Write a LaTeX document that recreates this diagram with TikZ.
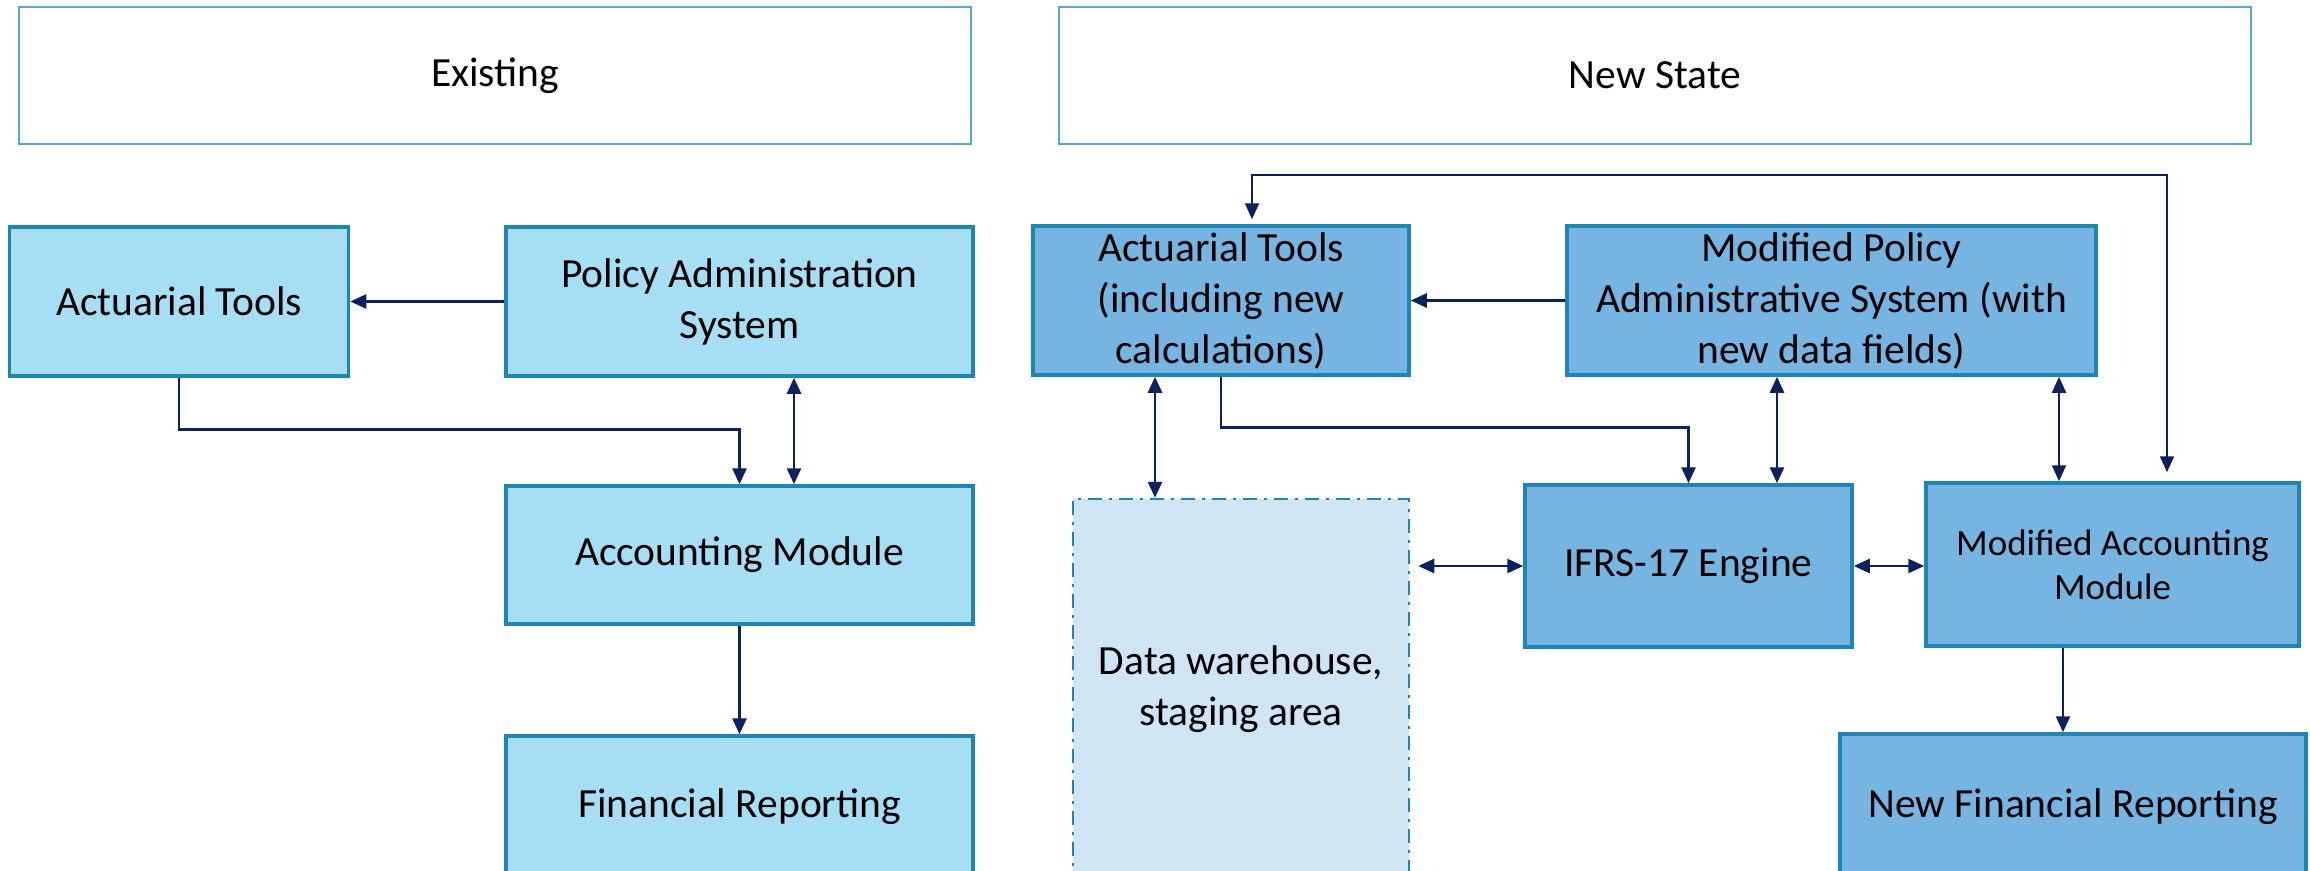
\documentclass[tikz,border=0pt]{standalone}
\usepackage{fontspec}
\setmainfont{Carlito}
\usetikzlibrary{arrows.meta,calc}
\definecolor{lfill}{HTML}{A6DEF4}
\definecolor{rfill}{HTML}{76B4E2}
\definecolor{dwfill}{HTML}{D0E5F4}
\definecolor{bord}{HTML}{1F85B2}
\definecolor{hbord}{HTML}{5AA8D2}
\definecolor{navy}{HTML}{0B2160}
\begin{document}
\begin{tikzpicture}[x=1pt,y=-1pt,
  every node/.style={inner sep=0pt, align=center, font=\fontsize{41.5}{51}\selectfont},
  hdr/.style={draw=hbord, line width=1.5pt, fill=white},
  lbox/.style={draw=bord, line width=3.5pt, fill=lfill},
  rbox/.style={draw=bord, line width=3.5pt, fill=rfill},
  dwbox/.style={draw=bord, line width=2.5pt, fill=dwfill, dash pattern=on 14pt off 7pt on 3pt off 7pt},
  arr/.style={draw=navy, line width=2.7pt, -{Triangle[length=16pt,width=14pt]}},
  arrb/.style={draw=navy, line width=2.7pt, {Triangle[length=16pt,width=14pt]}-{Triangle[length=16pt,width=14pt]}},
]
\useasboundingbox (0,0) rectangle (2310,870);
% headers
\node[hdr, minimum width=952pt, minimum height=137pt] (hL) at (495,75.5) {Existing};
\node[hdr, minimum width=1192pt, minimum height=137pt] (hR) at (1655,75.5) {New State};
% left side
\node[lbox, minimum width=339pt, minimum height=149pt] (AT1) at (179,301.5) {Actuarial Tools};
\node[lbox, minimum width=467pt, minimum height=149pt] (PAS) at (739.5,301.5) {Policy Administration\\System};
\node[lbox, minimum width=467pt, minimum height=138pt] (AM) at (739.5,555) {Accounting Module};
\node[lbox, minimum width=467pt, minimum height=142pt] (FR) at (739.5,807) {Financial Reporting};
% right side
\node[rbox, minimum width=376pt, minimum height=149pt] (AT2) at (1221,300.5) {Actuarial Tools\\(including new\\calculations)};
\node[rbox, minimum width=529pt, minimum height=149pt] (MP) at (1831.5,300.5) {Modified Policy\\Administrative System (with\\new data fields)};
\node[dwbox, minimum width=336pt, minimum height=380pt] (DW) at (1241,689) {Data warehouse,\\staging area};
\node[rbox, minimum width=327pt, minimum height=162pt] (IF) at (1688.5,566) {IFRS-17 Engine};
\node[rbox, minimum width=373pt, minimum height=163pt, font=\fontsize{37}{44}\selectfont] (MAM) at (2112.5,564.5) {Modified Accounting\\Module};
\node[rbox, minimum width=466pt, minimum height=146pt] (NFR) at (2073,807) {New Financial Reporting};
% left connectors
\draw[arr] (PAS.west) -- (AT1.east);
\draw[arr] (AT1.south) |- ($(AM.north)+(0,-55)$) -- (AM.north);
\draw[arrb] ([xshift=54.5pt]PAS.south) -- ([xshift=54.5pt]AM.north);
\draw[arr] (AM.south) -- (FR.north);
% right connectors
\draw[arr] (MP.west) -- (AT2.east);
\coordinate (TL) at ($(AT2.north)+(31,-49)$);
\draw[arrb, line width=2pt, shorten <=5pt, shorten >=9pt] ([xshift=31pt]AT2.north) -- (TL) -| ([xshift=54.5pt]MAM.north);
\draw[arr] (AT2.south) |- ($(IF.north)+(0,-56)$) -- (IF.north);
\draw[arrb] ([xshift=-66pt]AT2.south) -- ([xshift=-66pt]AT2.south |- DW.north);
\draw[arrb] ([xshift=-54.5pt]MP.south) -- ([xshift=-54.5pt]MP.south |- IF.north);
\draw[arrb, line width=2pt] ([xshift=227.5pt]MP.south) -- ([xshift=227.5pt]MP.south |- MAM.north);
\draw[arrb, shorten <=8pt] (IF.west -| DW.east) -- (IF.west);
\draw[arrb] (IF.east) -- (IF.east -| MAM.west);
\draw[arr] ([xshift=-49.5pt]MAM.south) -- ([xshift=-49.5pt]MAM.south |- NFR.north);
\end{tikzpicture}
\end{document}
